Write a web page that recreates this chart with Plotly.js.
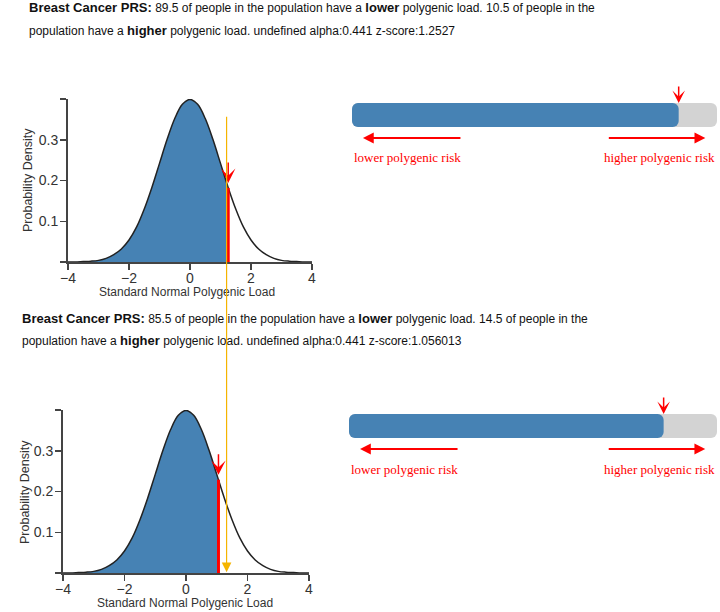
<!DOCTYPE html>
<html>
<head>
<meta charset="utf-8">
<script src="https://cdn.plot.ly/plotly-3.0.1.min.js"></script>
<style>
  html, body { margin: 0; padding: 0; background: #fff; }
  #chart { width: 720px; height: 612px; }
</style>
</head>
<body>
<div id="chart"></div>
<script>
// PRS report: density of the standard normal polygenic load plus a
// percentile bar, shown for two scores.

// density curve (x = polygenic load)
const loadX = [-4, -3.75, -3.5, -3.25, -3, -2.75, -2.5, -2.25, -2, -1.75, -1.5, -1.25,
               -1, -0.75, -0.5, -0.25, 0, 0.25, 0.5, 0.75, 1, 1.25, 1.5, 1.75,
               2, 2.25, 2.5, 2.75, 3, 3.25, 3.5, 3.75, 4];
const densityY = [0.000, 0.000, 0.001, 0.002, 0.004, 0.009, 0.018, 0.032, 0.054, 0.086, 0.130, 0.183,
                  0.242, 0.301, 0.352, 0.387, 0.399, 0.387, 0.352, 0.301, 0.242, 0.183, 0.130, 0.086,
                  0.054, 0.032, 0.018, 0.009, 0.004, 0.002, 0.001, 0.000, 0.000];

// one entry per score
const zScores = [1.2527, 1.056013];
const curveAtZ = [0.182, 0.229];
const lowerPct = [89.5, 85.5];
const higherPct = [10.5, 14.5];
const alphas = [0.441, 0.441];
const traitName = 'Breast Cancer PRS';

// stray marker line seen on the second density plot
const markerX = 1.32;

const xTicks = [-4, -2, 0, 2, 4];
const yTicks = [0, 0.1, 0.2, 0.3, 0.4];
const yTickText = ['', '0.1', '0.2', '0.3', ''];

const W = 720, H = 612;
const px = (v) => v / W;
const py = (v) => 1 - v / H;

const BLUE = '#4682b4';
const GREY = '#d3d3d3';
const RED = '#ff0000';
const AXIS = '#444444';
const SANS = 'Liberation Sans, Arial, sans-serif';
const SERIF = 'Liberation Serif, Times New Roman, serif';

// pixel boxes for each panel
const panels = [
    {dens: {x0: 68, x1: 312, y0: 99, y1: 262},
     bar: {x0: 352, x1: 717, y0: 103, y1: 127},
     text: {x: 27, y1: 8, y2: 30},
     ytitle: {x: 28, y: 180}, xtitle: {x: 187, y: 292}},
    {dens: {x0: 63, x1: 309, y0: 410, y1: 573},
     bar: {x0: 349, x1: 717, y0: 414, y1: 438},
     text: {x: 20, y1: 318, y2: 340},
     ytitle: {x: 25, y: 492}, xtitle: {x: 185, y: 603}}
];

const data = [];
const layout = {
    width: W, height: H,
    margin: {l: 0, r: 0, t: 0, b: 0},
    paper_bgcolor: '#fff', plot_bgcolor: 'rgba(0,0,0,0)',
    showlegend: false,
    barmode: 'overlay',
    hovermode: false,
    font: {family: SANS, color: AXIS},
    annotations: []
};

const bold = (t) => '<span style="font-size:13px;font-weight:bold">' + t + '</span>';

panels.forEach((p, i) => {
    const z = zScores[i];
    const dx = 'x' + (2 * i + 1), dy = 'y' + (2 * i + 1);
    const bx = 'x' + (2 * i + 2), by = 'y' + (2 * i + 2);
    const dxName = 'xaxis' + (2 * i + 1), dyName = 'yaxis' + (2 * i + 1);
    const bxName = 'xaxis' + (2 * i + 2), byName = 'yaxis' + (2 * i + 2);

    // --- density plot ---
    const fillX = [], fillY = [];
    loadX.forEach((x, k) => {
        if (x <= z) { fillX.push(x); fillY.push(densityY[k]); }
    });
    fillX.push(z); fillY.push(curveAtZ[i]);

    data.push({x: fillX, y: fillY, xaxis: dx, yaxis: dy, type: 'scatter',
               mode: 'lines', fill: 'tozeroy', fillcolor: BLUE,
               line: {width: 0, shape: 'spline', color: BLUE}});
    data.push({x: loadX, y: densityY, xaxis: dx, yaxis: dy, type: 'scatter',
               mode: 'lines', line: {width: 1.5, shape: 'spline', color: '#222'}});
    data.push({x: [z, z], y: [0, curveAtZ[i]], xaxis: dx, yaxis: dy, type: 'scatter',
               mode: 'lines', line: {width: 3, color: RED}});

    const axisStyle = () => ({
        ticks: 'outside', ticklen: 6, tickwidth: 1.5, tickcolor: AXIS,
        showline: true, linecolor: AXIS, linewidth: 2,
        showgrid: false, zeroline: false, fixedrange: true,
        tickfont: {family: SANS, size: 14, color: '#333'}
    });
    layout[dxName] = Object.assign(axisStyle(), {
        domain: [px(p.dens.x0), px(p.dens.x1)], anchor: dy,
        range: [-4, 4], tickvals: xTicks, ticklabelstandoff: -4
    });
    layout[dyName] = Object.assign(axisStyle(), {
        domain: [py(p.dens.y1), py(p.dens.y0)], anchor: dx,
        range: [0, 0.4], tickvals: yTicks, ticktext: yTickText, ticklabelstandoff: -1
    });

    // axis titles
    layout.annotations.push({
        xref: 'paper', yref: 'paper', x: px(p.xtitle.x), y: py(p.xtitle.y),
        xanchor: 'center', yanchor: 'middle', showarrow: false,
        text: 'Standard Normal Polygenic Load',
        font: {family: SANS, size: 12, color: '#333'}
    });
    layout.annotations.push({
        xref: 'paper', yref: 'paper', x: px(p.ytitle.x), y: py(p.ytitle.y),
        xanchor: 'center', yanchor: 'middle', showarrow: false, textangle: -90,
        text: 'Probability Density',
        font: {family: SANS, size: 12.5, color: '#333'}
    });

    // arrow pointing at the score on the curve
    layout.annotations.push({
        xref: dx, yref: dy, x: z, y: curveAtZ[i] + 0.012,
        ax: 0, ay: -22, text: '', showarrow: true,
        arrowhead: 3, arrowsize: 1.6, arrowwidth: 1.5, arrowcolor: RED
    });

    // --- percentile bar ---
    const lo = lowerPct[i];
    data.push({y: [0], x: [100], base: [0], xaxis: bx, yaxis: by,
               type: 'bar', orientation: 'h', width: 1,
               marker: {color: GREY, cornerradius: 6, line: {width: 0}}});
    data.push({y: [0], x: [lo], base: [0], xaxis: bx, yaxis: by,
               type: 'bar', orientation: 'h', width: 1,
               marker: {color: BLUE, cornerradius: 6, line: {width: 0}}});

    layout[bxName] = {domain: [px(p.bar.x0), px(p.bar.x1)], anchor: by,
                      range: [0, 100], visible: false, fixedrange: true};
    layout[byName] = {domain: [py(p.bar.y1), py(p.bar.y0)], anchor: bx,
                      range: [-0.5, 0.5], visible: false, fixedrange: true};

    layout.annotations.push({
        xref: bx, yref: by, x: lo, y: 0.5, ax: 0, ay: -18, text: '',
        showarrow: true, arrowhead: 3, arrowsize: 1.4, arrowwidth: 1.5, arrowcolor: RED
    });
    // direction arrows and labels under the bar
    const arrowY = py(p.bar.y1 + 11);
    layout.annotations.push({
        xref: bx, yref: 'paper', x: 3, y: arrowY, ax: 99, ay: 0, text: '',
        showarrow: true, arrowhead: 2, arrowsize: 1.2, arrowwidth: 1.8, arrowcolor: RED
    });
    layout.annotations.push({
        xref: bx, yref: 'paper', x: 96.8, y: arrowY, ax: -98, ay: 0, text: '',
        showarrow: true, arrowhead: 2, arrowsize: 1.2, arrowwidth: 1.8, arrowcolor: RED
    });
    const labelY = py(p.bar.y1 + 31);
    layout.annotations.push({
        xref: bx, yref: 'paper', x: 0, y: labelY, xanchor: 'left', yanchor: 'middle',
        text: 'lower polygenic risk', showarrow: false,
        font: {family: SERIF, size: 13, color: RED}
    });
    layout.annotations.push({
        xref: bx, yref: 'paper', x: 100, y: labelY, xanchor: 'right', yanchor: 'middle',
        text: 'higher polygenic risk', showarrow: false,
        font: {family: SERIF, size: 13, color: RED}
    });

    // --- description text ---
    const line1 = bold(traitName + ':') + ' ' + lo + ' of people in the population have a ' + bold('lower') +
                  ' polygenic load. ' + higherPct[i] + ' of people in the';
    const line2 = 'population have a ' + bold('higher') + ' polygenic load. undefined alpha:' + alphas[i] +
                  ' z-score:' + z;
    [[line1, p.text.y1], [line2, p.text.y2]].forEach(([t, y]) => {
        layout.annotations.push({
            xref: 'paper', yref: 'paper', x: px(p.text.x), y: py(y),
            xanchor: 'left', yanchor: 'middle', text: t, showarrow: false,
            font: {family: SANS, size: 12, color: '#111'}
        });
    });
});

// thin yellow marker line running down through both panels
layout.annotations.push({
    xref: 'x3', yref: 'y3', x: markerX, y: 0.002, ax: 0, ay: -457, text: '',
    showarrow: true, arrowhead: 2, arrowsize: 1.6, arrowwidth: 1.2, arrowcolor: '#f5b400'
});

Plotly.newPlot('chart', data, layout, {displayModeBar: false, staticPlot: true});
</script>
</body>
</html>
